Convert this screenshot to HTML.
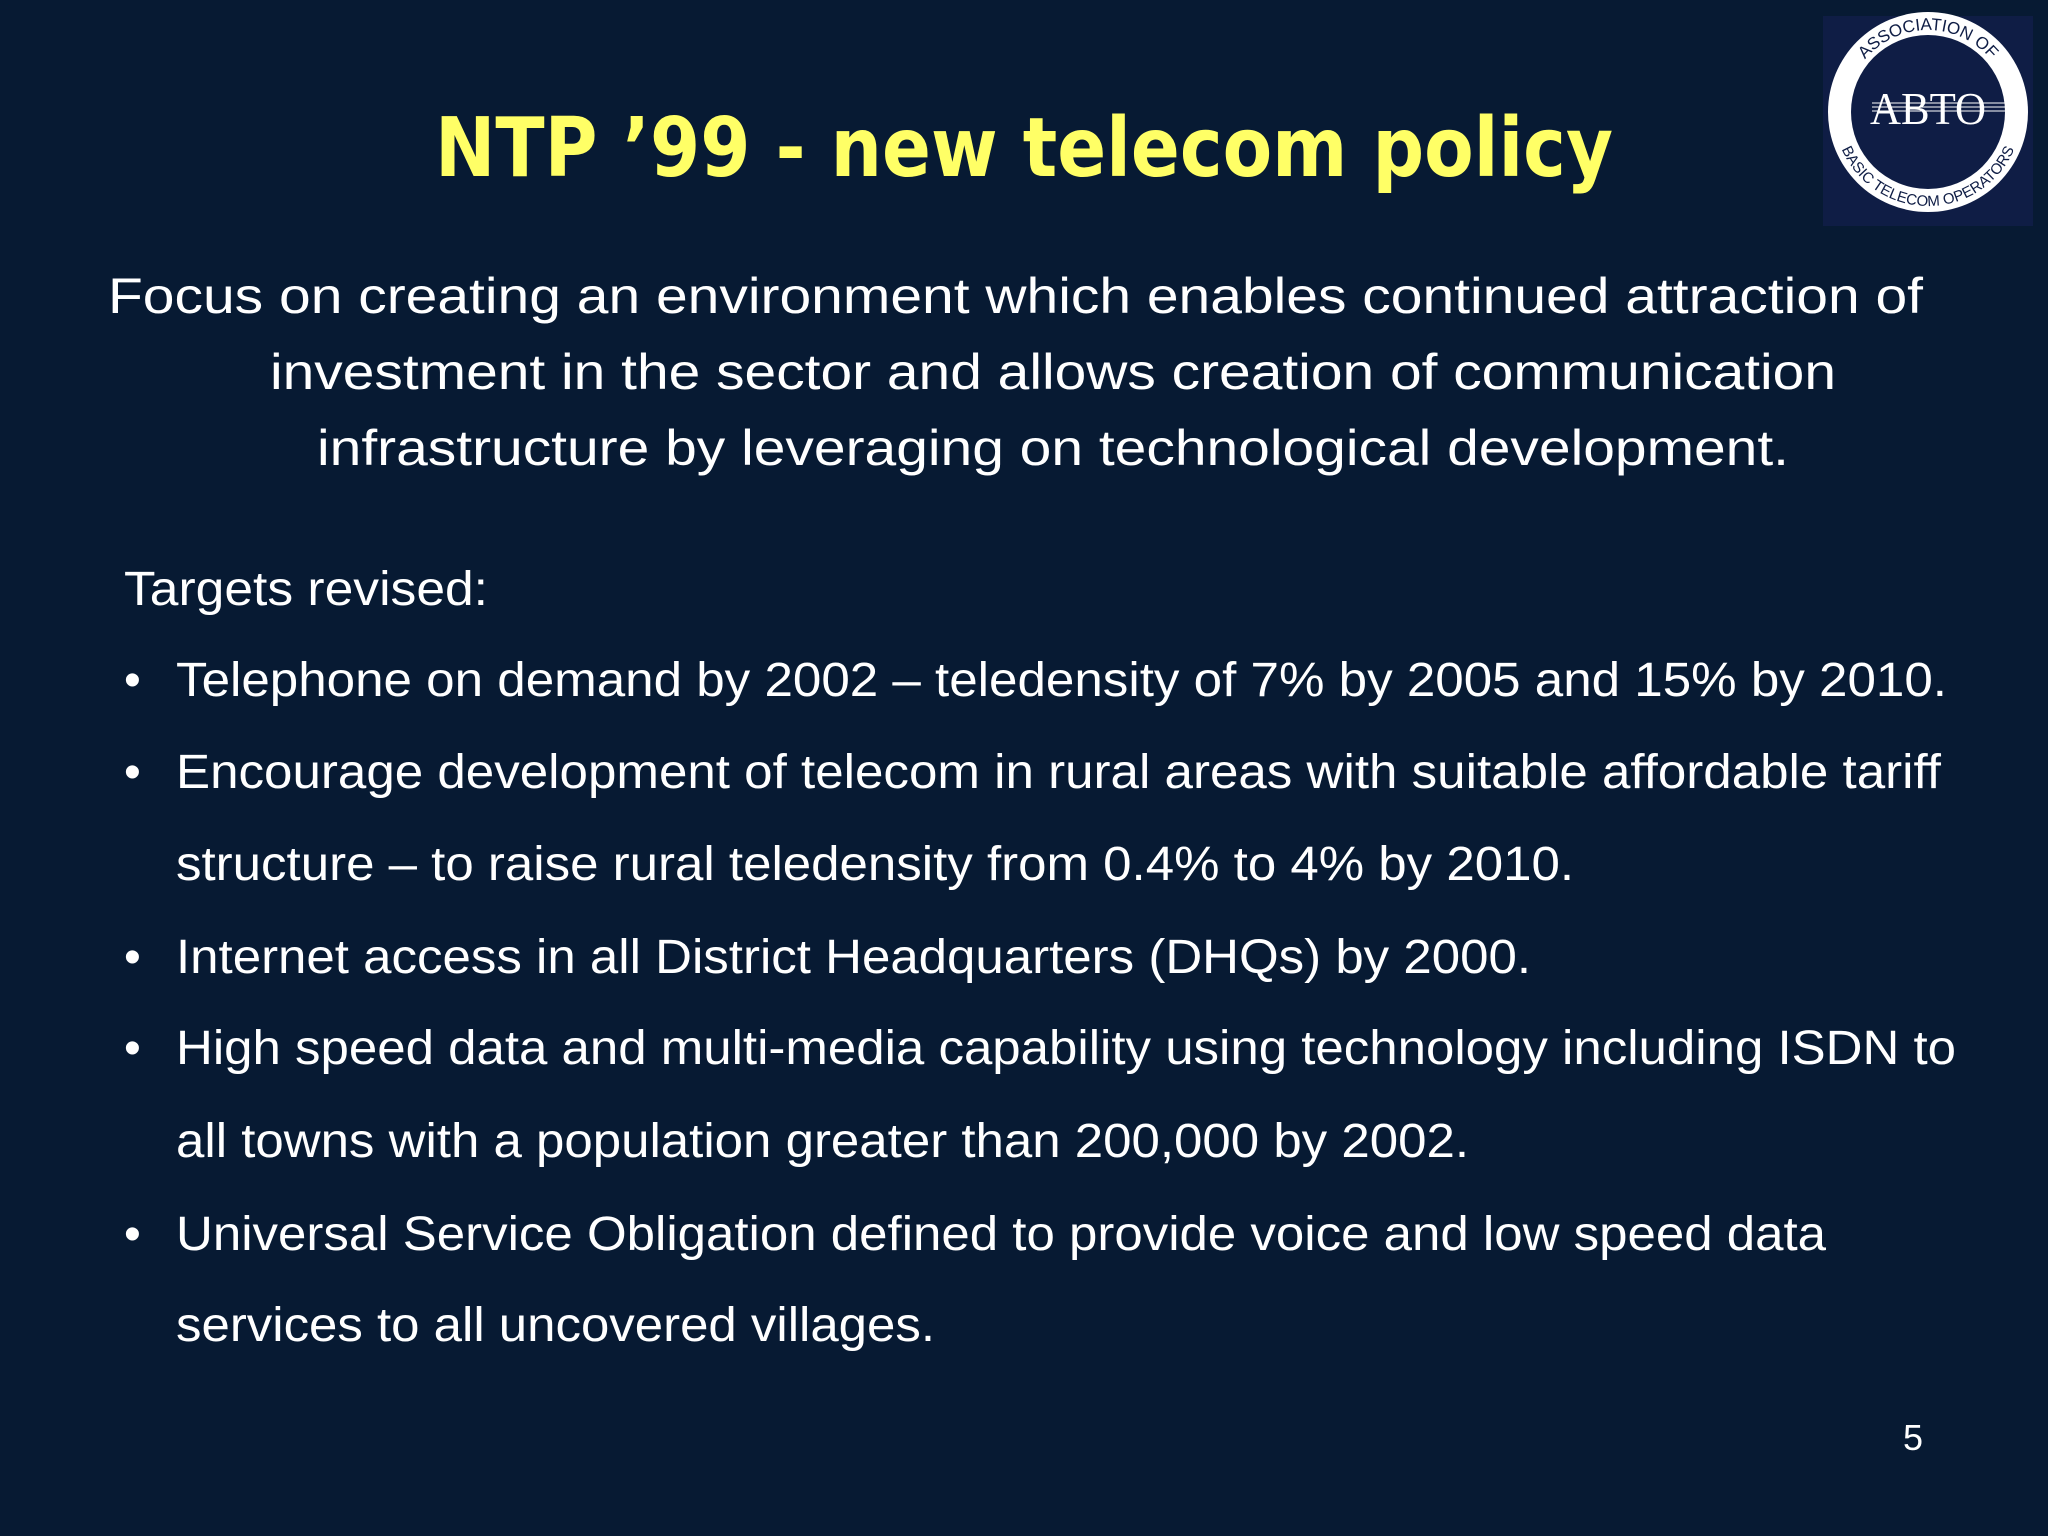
<!DOCTYPE html>
<html><head><meta charset="utf-8"><style>
html,body{margin:0;padding:0;background:#071a33;}
svg{display:block}
</style></head><body>
<svg width="2048" height="1536" viewBox="0 0 2048 1536" xmlns="http://www.w3.org/2000/svg">
<rect width="2048" height="1536" fill="#071a33"/>
<g>
<rect x="1823" y="16" width="210" height="210" fill="#0f1d45"/>
<circle cx="1928" cy="112" r="100" fill="#ffffff"/>
<circle cx="1928" cy="112" r="77" fill="#0f1d45"/>
<line x1="1872" y1="103" x2="2010" y2="103" stroke="#fff" stroke-width="1"/>
<line x1="1872" y1="107" x2="2010" y2="107" stroke="#fff" stroke-width="1"/>
<line x1="1872" y1="111" x2="2010" y2="111" stroke="#fff" stroke-width="1"/>
<text x="1928" y="124" text-anchor="middle" font-family="Liberation Serif, serif" font-size="46" fill="#fff" textLength="116" lengthAdjust="spacingAndGlyphs">ABTO</text>
<path id="arcTop" d="M1846,112 A82,82 0 0,1 2010,112" fill="none"/>
<path id="arcBot" d="M1834,112 A94,94 0 0,0 2022,112" fill="none"/>
<text font-family="Liberation Sans, sans-serif" font-size="17" fill="#0f1d45"><textPath href="#arcTop" startOffset="50%" text-anchor="middle">ASSOCIATION OF</textPath></text>
<text font-family="Liberation Sans, sans-serif" font-size="15" fill="#0f1d45"><textPath href="#arcBot" startOffset="50%" text-anchor="middle">BASIC TELECOM OPERATORS</textPath></text>
</g>
<text x="435" y="176" font-family="DejaVu Sans, Verdana, sans-serif" font-weight="bold" font-size="82" fill="#ffff66" textLength="1178" lengthAdjust="spacingAndGlyphs">NTP ’99  - new telecom policy</text>
<g font-family="Liberation Sans, Arial, sans-serif" font-size="50" fill="#ffffff">
<text x="108" y="313" textLength="1815" lengthAdjust="spacingAndGlyphs">Focus on creating an environment which enables continued attraction of</text>
<text x="270" y="389" textLength="1566" lengthAdjust="spacingAndGlyphs">investment in the sector and allows creation of communication</text>
<text x="317" y="465" textLength="1472" lengthAdjust="spacingAndGlyphs">infrastructure by leveraging on technological development.</text>
</g>
<g font-family="Liberation Sans, Arial, sans-serif" font-size="48" fill="#ffffff">
<text x="124" y="605" textLength="364" lengthAdjust="spacingAndGlyphs">Targets revised:</text>
<text x="124" y="696">•</text>
<text x="176" y="696" textLength="1771" lengthAdjust="spacingAndGlyphs">Telephone on demand by 2002 – teledensity of 7% by 2005 and 15% by 2010.</text>
<text x="124" y="788">•</text>
<text x="176" y="788" textLength="1765" lengthAdjust="spacingAndGlyphs">Encourage development of telecom in rural areas with suitable affordable tariff</text>
<text x="176" y="880" textLength="1398" lengthAdjust="spacingAndGlyphs">structure – to raise rural teledensity from 0.4% to 4% by 2010.</text>
<text x="124" y="973">•</text>
<text x="176" y="973" textLength="1355" lengthAdjust="spacingAndGlyphs">Internet access in all District Headquarters (DHQs) by 2000.</text>
<text x="124" y="1064">•</text>
<text x="176" y="1064" textLength="1780" lengthAdjust="spacingAndGlyphs">High speed data and multi-media capability using technology including ISDN to</text>
<text x="176" y="1157" textLength="1293" lengthAdjust="spacingAndGlyphs">all towns with a population greater than 200,000 by 2002.</text>
<text x="124" y="1250">•</text>
<text x="176" y="1250" textLength="1650" lengthAdjust="spacingAndGlyphs">Universal Service Obligation defined to provide voice and low speed data</text>
<text x="176" y="1341" textLength="759" lengthAdjust="spacingAndGlyphs">services to all uncovered villages.</text>
</g>
<text x="1913" y="1450" text-anchor="middle" font-family="Liberation Sans, Arial, sans-serif" font-size="36" fill="#ffffff">5</text>
</svg>
</body></html>
